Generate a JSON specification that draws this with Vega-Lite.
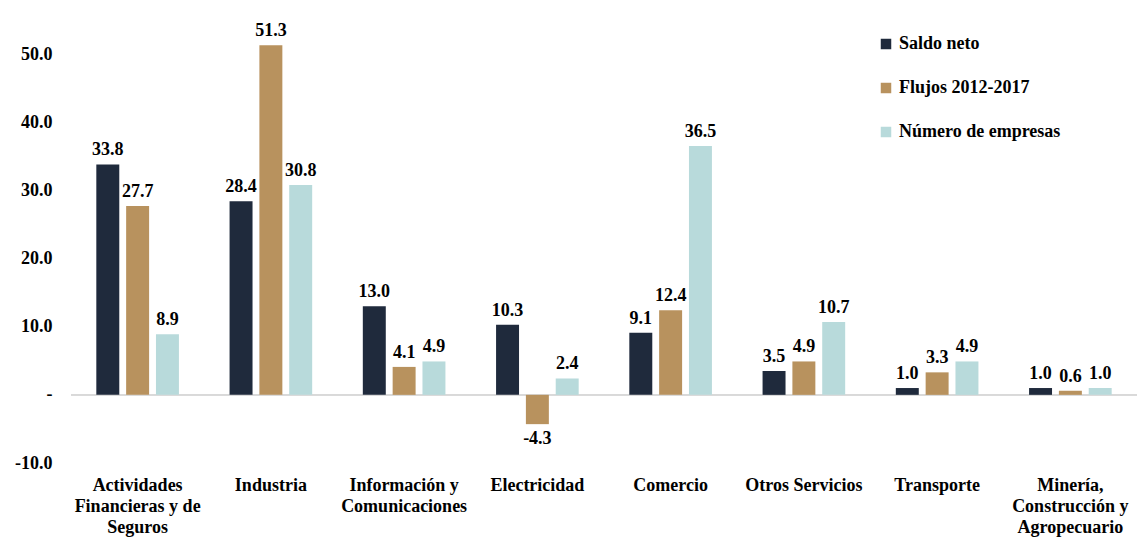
{
  "$schema": "https://vega.github.io/schema/vega-lite/v6.json",
  "width": 1066,
  "height": 443,
  "autosize": {"type": "none"},
  "padding": {"left": 71, "top": 20, "right": 0, "bottom": 76},
  "background": "white",
  "config": {
    "view": {"stroke": null},
    "font": "Liberation Serif",
    "text": {"font": "Liberation Serif", "fontWeight": "bold", "fontSize": 18, "color": "#000000"}
  },
  "data": {
    "values": [
      {"sector": "Actividades Financieras y de Seguros", "serie": "Saldo neto", "valor": 33.8},
      {"sector": "Actividades Financieras y de Seguros", "serie": "Flujos 2012-2017", "valor": 27.7},
      {"sector": "Actividades Financieras y de Seguros", "serie": "Número de empresas", "valor": 8.9},
      {"sector": "Industria", "serie": "Saldo neto", "valor": 28.4},
      {"sector": "Industria", "serie": "Flujos 2012-2017", "valor": 51.3},
      {"sector": "Industria", "serie": "Número de empresas", "valor": 30.8},
      {"sector": "Información y Comunicaciones", "serie": "Saldo neto", "valor": 13.0},
      {"sector": "Información y Comunicaciones", "serie": "Flujos 2012-2017", "valor": 4.1},
      {"sector": "Información y Comunicaciones", "serie": "Número de empresas", "valor": 4.9},
      {"sector": "Electricidad", "serie": "Saldo neto", "valor": 10.3},
      {"sector": "Electricidad", "serie": "Flujos 2012-2017", "valor": -4.3},
      {"sector": "Electricidad", "serie": "Número de empresas", "valor": 2.4},
      {"sector": "Comercio", "serie": "Saldo neto", "valor": 9.1},
      {"sector": "Comercio", "serie": "Flujos 2012-2017", "valor": 12.4},
      {"sector": "Comercio", "serie": "Número de empresas", "valor": 36.5},
      {"sector": "Otros Servicios", "serie": "Saldo neto", "valor": 3.5},
      {"sector": "Otros Servicios", "serie": "Flujos 2012-2017", "valor": 4.9},
      {"sector": "Otros Servicios", "serie": "Número de empresas", "valor": 10.7},
      {"sector": "Transporte", "serie": "Saldo neto", "valor": 1.0},
      {"sector": "Transporte", "serie": "Flujos 2012-2017", "valor": 3.3},
      {"sector": "Transporte", "serie": "Número de empresas", "valor": 4.9},
      {"sector": "Minería, Construcción y Agropecuario", "serie": "Saldo neto", "valor": 1.0},
      {"sector": "Minería, Construcción y Agropecuario", "serie": "Flujos 2012-2017", "valor": 0.6},
      {"sector": "Minería, Construcción y Agropecuario", "serie": "Número de empresas", "valor": 1.0}
    ]
  },
  "encoding": {
    "x": {
      "field": "sector",
      "type": "nominal",
      "sort": null,
      "scale": {"paddingInner": 0.38, "paddingOuter": 0.19},
      "axis": {
        "title": null,
        "domain": false,
        "ticks": false,
        "labelAngle": 0,
        "labelFont": "Liberation Serif",
        "labelFontWeight": "bold",
        "labelFontSize": 18,
        "labelColor": "#000000",
        "labelPadding": 13,
        "labelLineHeight": 21,
        "labelLimit": 220,
        "labelExpr": "datum.value == 'Actividades Financieras y de Seguros' ? ['Actividades', 'Financieras y de', 'Seguros'] : datum.value == 'Información y Comunicaciones' ? ['Información y', 'Comunicaciones'] : datum.value == 'Minería, Construcción y Agropecuario' ? ['Minería,', 'Construcción y', 'Agropecuario'] : datum.value"
      }
    },
    "xOffset": {
      "field": "serie",
      "type": "nominal",
      "sort": ["Saldo neto", "Flujos 2012-2017", "Número de empresas"],
      "scale": {"paddingInner": 0.23, "paddingOuter": 0}
    },
    "y": {
      "field": "valor",
      "type": "quantitative",
      "scale": {"domain": [-10, 55], "nice": false, "zero": false},
      "axis": {
        "title": null,
        "grid": false,
        "domain": false,
        "ticks": false,
        "values": [-10, 0, 10, 20, 30, 40, 50],
        "labelExpr": "datum.value == 0 ? '-' : datum.value < 0 ? '-' + format(-datum.value, '.1f') : format(datum.value, '.1f')",
        "labelFont": "Liberation Serif",
        "labelFontWeight": "bold",
        "labelFontSize": 18,
        "labelColor": "#000000",
        "labelPadding": 19
      }
    }
  },
  "layer": [
    {
      "mark": {"type": "rule", "color": "#d9d9d9", "strokeWidth": 1},
      "encoding": {"y": {"datum": 0}, "x": null, "xOffset": null}
    },
    {
      "mark": {"type": "bar"},
      "encoding": {
        "color": {
          "field": "serie",
          "type": "nominal",
          "sort": ["Saldo neto", "Flujos 2012-2017", "Número de empresas"],
          "scale": {
            "domain": ["Saldo neto", "Flujos 2012-2017", "Número de empresas"],
            "range": ["#1f2a3c", "#b8925e", "#b8dadb"]
          },
          "legend": {
            "title": null,
            "orient": "none",
            "legendX": 806,
            "legendY": 15,
            "symbolType": "square",
            "symbolSize": 110,
            "symbolStrokeWidth": 0,
            "symbolOpacity": 1,
            "labelFont": "Liberation Serif",
            "labelFontWeight": "bold",
            "labelFontSize": 18,
            "labelColor": "#000000",
            "labelOffset": 4,
            "labelLimit": 400,
            "rowPadding": 26
          }
        }
      }
    },
    {
      "transform": [{"filter": "datum.valor >= 0"}],
      "mark": {"type": "text", "baseline": "bottom", "dy": -5},
      "encoding": {"text": {"field": "valor", "format": ".1f"}}
    },
    {
      "transform": [
        {"filter": "datum.valor < 0"},
        {"calculate": "'-' + format(-datum.valor, '.1f')", "as": "etiqueta"}
      ],
      "mark": {"type": "text", "baseline": "top", "dy": 6},
      "encoding": {"text": {"field": "etiqueta", "type": "nominal"}}
    }
  ]
}
